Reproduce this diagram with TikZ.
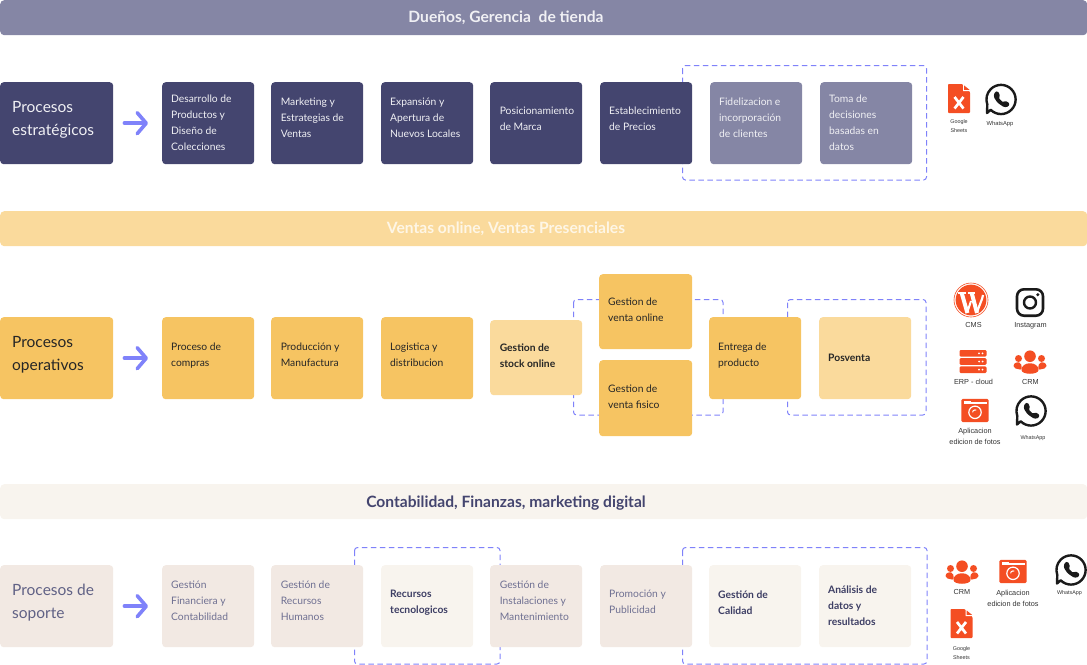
\documentclass[tikz,border=0pt]{standalone}
\usepackage{fontspec}
\setmainfont{Lato}
\newfontfamily\iconfont{Liberation Sans}
\usetikzlibrary{arrows.meta}
\definecolor{navy}{HTML}{44456F}
\definecolor{navylight}{HTML}{8586A5}
\definecolor{amber}{HTML}{F6C462}
\definecolor{amberlight}{HTML}{FADA9C}
\definecolor{beige}{HTML}{F2E9E3}
\definecolor{cream}{HTML}{F8F4EE}
\definecolor{softtext}{HTML}{6F7092}
\definecolor{inktext}{HTML}{262626}
\definecolor{periwinkle}{HTML}{7F82FA}
\definecolor{iconred}{HTML}{F44E23}
\definecolor{iconblack}{HTML}{1A1A1A}
\tikzset{
  card/.style={rounded corners=3.5pt,inner xsep=9pt,inner ysep=0pt,anchor=north west,align=left,font=\fontsize{10.3}{16}\selectfont},
  pushed/.style={inner xsep=9.6pt},
  bigcard/.style={card,inner xsep=12pt,font=\fontsize{15.5}{23}\selectfont},
  band/.style={rounded corners=4pt,anchor=north west,inner sep=0pt,minimum width=1087pt,minimum height=35pt},
  bandtext/.style={inner sep=0pt,font=\fontsize{15.6}{18}\selectfont\bfseries},
  navyc/.style={fill=navy,text=white!92!navy},
  navyl/.style={fill=navylight,text=white!92!navy},
  amberc/.style={fill=amber,text=inktext},
  amberl/.style={fill=amberlight,text=inktext},
  beigec/.style={fill=beige,text=softtext},
  creamc/.style={fill=cream,text=navy!90!black},
  dashbox/.style={draw=periwinkle,dash pattern=on 5.5pt off 3.5pt,line width=1pt,rounded corners=3pt},
  bigarrow/.style={draw=periwinkle,line width=3.6pt,line cap=round,-{Straight Barb[length=9pt,width=21pt,round]},shorten <=11pt,shorten >=14pt},
  iconlabel/.style={align=center,inner sep=0pt,text=black!80,font=\iconfont\fontsize{7.3}{11}\selectfont},
  tinylabel/.style={iconlabel,font=\iconfont\fontsize{5.4}{9}\selectfont},
  sheeticon/.pic={
    \fill[iconred,rounded corners=0.8pt] (-11,-14.5) -- (3,-14.5) -- (11,-6.5) -- (11,14.5) -- (-11,14.5) -- cycle;
    \fill[white] (4,-14.5) -- (11,-7.5) -- (4,-7.5) -- cycle;
    \fill[iconred] (5.2,-13) -- (10.5,-8.7) -- (5.2,-8.7) -- cycle;
    \draw[white,line width=2.7pt] (-4.5,-1.5) -- (4.5,10) (4.5,-1.5) -- (-4.5,10);
  },
  whatsicon/.pic={
    \draw[iconblack,line width=2.4pt,line join=round] (-10.3,10.3) arc[start angle=135,end angle=-200,radius=14.6] -- (-14,13.5) -- cycle;
    \fill[iconblack,rounded corners=1.2pt] (-6.5,-7.2) -- (-3.2,-8.5) -- (-0.8,-3.5) -- (-2.4,-1.6) -- (2.2,3) -- (4,1.2) -- (8.6,3.6) -- (7.4,7.2) -- (3,7.7) -- (-3.5,3.2) -- (-7.3,-2.5) -- cycle;
  },
  wpicon/.pic={
    \draw[iconred,line width=0.6pt] (0,0) circle[radius=17];
    \fill[iconred] (0,0) circle[radius=15.4];
    \begin{scope}
      \clip (0,0) circle[radius=15.4];
      \draw[white,line width=4pt] (-9.3,-7) -- (-3.6,13);
      \draw[white,line width=4pt] (0.7,-7) -- (6,13);
      \draw[white,line width=2pt] (-3.6,12) -- (0,1);
      \draw[white,line width=2.2pt] (6,12) -- (11,-1) -- (12,-5);
      \draw[white,line width=1.6pt] (-12.8,-7.2) -- (-5.5,-7.2) (-2.8,-7.2) -- (4,-7.2);
    \end{scope}
  },
  instaicon/.pic={
    \draw[iconblack,line width=2.6pt,rounded corners=7pt] (-13,-13.2) rectangle (13,13.2);
    \draw[iconblack,line width=2.4pt] (0,0) circle[radius=6];
    \fill[iconblack] (7.8,-7.8) circle[radius=1.7];
  },
  erpicon/.pic={
    \foreach \yy in {-11.5,-3.3,4.9}{
      \fill[iconred,rounded corners=1.2pt] (-13.5,\yy) rectangle (13.5,\yy+6.6);
      \fill[white] (6,\yy+3.3) circle[radius=1] (9.5,\yy+3.3) circle[radius=1];
    }
  },
  crmicon/.pic={
    \fill[iconred] (0,-5.8) circle[radius=5.8] (-11.5,-3.5) circle[radius=3.5] (11.5,-3.5) circle[radius=3.5];
    \fill[iconred,rounded corners=2pt] (-16.5,6) .. controls (-16.5,0.5) and (-12,0) .. (-9,0.8) -- (-8,8) -- cycle;
    \fill[iconred,rounded corners=2pt] (16.5,6) .. controls (16.5,0.5) and (12,0) .. (9,0.8) -- (8,8) -- cycle;
    \fill[iconred] (-8.5,8) .. controls (-8.5,-1) and (8.5,-1) .. (8.5,8) .. controls (8.5,13) and (-8.5,13) .. (-8.5,8) -- cycle;
  },
  camicon/.pic={
    \fill[iconred,rounded corners=1.5pt] (-13.7,-11.7) rectangle (13.7,11.7);
    \fill[white] (-11.5,-8.4) rectangle (11.5,-6.4);
    \fill[white] (-11.5,-9.8) rectangle (-4,-8.4);
    \draw[white,line width=1.2pt] (0,1.8) circle[radius=6.2];
    \draw[white,line width=1pt] (0,1.8) ++(-2.4,0) arc[start angle=180,end angle=300,radius=2.4];
  }
}
% style, name, x, y, w, raise, h, text
\newcommand{\cardnode}[8]{%
  \node[#1,minimum width=#5pt,minimum height=#7pt] (#2) at (#3,#4) {};
  \node[#1,fill=none,anchor=west,yshift=#6pt] (#2t) at (#2.west) {#8};}
\begin{document}
\begin{tikzpicture}[x=1pt,y=-1pt]
\useasboundingbox (0,0) rectangle (1087,664);
% dashed frames
\draw[dashbox] (682.5,65.5) rectangle (926.5,180) coordinate (frameA);
\draw[dashbox] (573.5,299.5) rectangle (723,415) coordinate (frameB);
\draw[dashbox] (787.5,299.5) rectangle (926,415) coordinate (frameC);
\draw[dashbox] (354.5,547.5) rectangle (500,664) coordinate (frameD);
\draw[dashbox] (682.5,547.5) rectangle (927,664) coordinate (frameE);
% bands
\node[band,fill=navylight] (bandA) at (0,0) {};
\node[bandtext,text=white!92!navy] (bandAt) at (506,17.5) {Dueños, Gerencia\ \ de tienda};
\node[band,fill=amberlight] (bandB) at (0,211) {};
\node[bandtext,text=white!75!amberlight] (bandBt) at (506,229) {Ventas online, Ventas Presenciales};
\node[band,fill=cream] (bandC) at (0,484) {};
\node[bandtext,text=navy] (bandCt) at (506,503) {Contabilidad, Finanzas, marketing digital};
% row 1
\cardnode{bigcard,navyc}{s0}{0}{82}{113}{3}{82}{Procesos\\estratégicos}
\cardnode{card,navyc}{s1}{162}{82}{92}{0}{82}{Desarrollo de\\Productos y\\Diseño de\\Colecciones}
\cardnode{card,navyc,pushed}{s2}{271}{82}{92}{5}{82}{Marketing y\\Estrategias de\\Ventas}
\cardnode{card,navyc}{s3}{381}{82}{92}{5}{82}{Expansión y\\Apertura de\\Nuevos Locales}
\cardnode{card,navyc,pushed}{s4}{490}{82}{92}{4}{82}{Posicionamiento\\de Marca}
\cardnode{card,navyc}{s5}{600}{82}{92}{4}{82}{Establecimiento\\de Precios}
\cardnode{card,navyl}{s6}{710}{82}{92}{5}{82}{Fidelizacion e\\incorporación\\de clientes}
\cardnode{card,navyl}{s7}{820}{82}{92}{0}{82}{Toma de\\decisiones\\basadas en\\datos}
% row 2
\cardnode{bigcard,amberc}{o0}{0}{317}{113}{3}{82}{Procesos\\operativos}
\cardnode{card,amberc}{o1}{162}{317}{92}{3}{82}{Proceso de\\compras}
\cardnode{card,amberc,pushed}{o2}{271}{317}{92}{3}{82}{Producción y\\Manufactura}
\cardnode{card,amberc}{o3}{381}{317}{92}{3}{82}{Logistica y\\distribucion}
\cardnode{card,amberl,pushed}{o4}{490}{320}{92}{2}{75}{\textbf{Gestion de}\\\textbf{stock online}}
\cardnode{card,amberc}{o5}{599}{274}{93}{2}{75}{Gestion de\\venta online}
\cardnode{card,amberc}{o6}{599}{360}{93}{1}{76}{Gestion de\\venta fisico}
\cardnode{card,amberc}{o7}{709}{317}{92}{3}{82}{Entrega de\\producto}
\cardnode{card,amberl}{o8}{819}{317}{92}{0}{82}{\textbf{Posventa}}
% row 3
\cardnode{bigcard,beigec,text=navy!85}{p0}{0}{565}{113}{4}{82}{Procesos de\\soporte}
\cardnode{card,beigec}{p1}{162}{565}{92}{5}{82}{Gestión\\Financiera y\\Contabilidad}
\cardnode{card,beigec,pushed}{p2}{271}{565}{92}{5}{82}{Gestión de\\Recursos\\Humanos}
\cardnode{card,creamc}{p3}{381}{565}{92}{4}{82}{\textbf{Recursos}\\\textbf{tecnologicos}}
\cardnode{card,beigec,pushed}{p4}{490}{565}{92}{5}{82}{Gestión de\\Instalaciones y\\Mantenimiento}
\cardnode{card,beigec}{p5}{600}{565}{92}{4}{82}{Promoción y\\Publicidad}
\cardnode{card,creamc}{p6}{709}{565}{92}{3}{82}{\textbf{Gestión de}\\\textbf{Calidad}}
\cardnode{card,creamc}{p7}{819}{565}{92}{0}{82}{\textbf{Análisis de}\\\textbf{datos y}\\\textbf{resultados}}
% arrows
\draw[bigarrow] (s0) -- (s1);
\draw[bigarrow] (o0) -- (o1);
\draw[bigarrow] (p0) -- (p1);
% icons row 1
\pic at (959,98.5) {sheeticon};
\node[tinylabel] (l1) at (959,126.5) {Google\\Sheets};
\pic at (1001,99.5) {whatsicon};
\node[tinylabel,font=\iconfont\fontsize{5.8}{9}\selectfont] (l2) at (1000,123.5) {WhatsApp};
% icons row 2
\pic at (971,300) {wpicon};
\node[iconlabel] (l3) at (973.5,325) {CMS};
\pic at (1030,302.5) {instaicon};
\node[iconlabel] (l4) at (1030.5,325.5) {Instagram};
\pic at (973,361.5) {erpicon};
\node[iconlabel] (l5) at (973.5,382) {ERP - cloud};
\pic at (1030,362) {crmicon};
\node[iconlabel] (l6) at (1030.5,382) {CRM};
\pic at (975,410.5) {camicon};
\node[iconlabel] (l7) at (975,436) {Aplicacion\\edicion de fotos};
\pic at (1031,411) {whatsicon};
\node[tinylabel] (l8) at (1033,438) {WhatsApp};
% icons row 3
\pic at (962,572) {crmicon};
\node[iconlabel] (l9) at (962,592) {CRM};
\pic at (1013,571.5) {camicon};
\node[iconlabel] (l10) at (1013,598) {Aplicacion\\edicion de fotos};
\pic at (1071,570) {whatsicon};
\node[tinylabel] (l11) at (1069.5,593) {WhatsApp};
\pic at (961.5,623.5) {sheeticon};
\node[tinylabel] (l12) at (961.5,653.5) {Google\\Sheets};
\end{tikzpicture}
\end{document}
